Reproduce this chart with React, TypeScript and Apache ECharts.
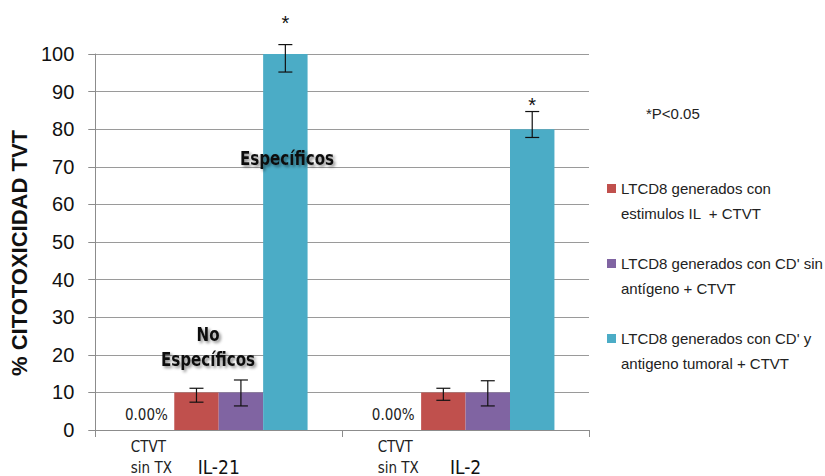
import React, { useEffect, useRef } from "react";
import * as echarts from "echarts";

const categories = ["IL-21", "IL-2"];
const ctvtSinTx = [0, 0];
const ilCtvt = [10, 10];
const cdSinAntigeno = [10, 10];
const cdAntigenoTumoral = [100, 80];
// error bar extents [low, high]
const ilCtvtErr = [[7.4, 11.1], [7.9, 11.1]];
const cdSinErr = [[6.4, 13.3], [6.4, 13.1]];
const cdTumErr = [[95.2, 102.5], [77.8, 84.7]];
const yTicks = { min: 0, max: 100, interval: 10 };

const legendNames = [
  "LTCD8 generados con\nestimulos IL  + CTVT",
  "LTCD8 generados con CD' sin\nantígeno + CTVT",
  "LTCD8 generados con CD' y\nantigeno tumoral + CTVT",
];

const SANS = "'Liberation Sans', Arial, sans-serif";
const NARROW = "'Liberation Sans Narrow', 'DejaVu Sans Condensed', sans-serif";
const CAT_GAP = 0.28;
const NBARS = 4;

export default function App() {
  const ref = useRef<HTMLDivElement>(null);
  useEffect(() => {
    if (!ref.current) return;
    const chart = echarts.init(ref.current, null, { renderer: "svg" });
    const errData: any[] = [];
    [ilCtvtErr, cdSinErr, cdTumErr].forEach((arr, s) => {
      arr.forEach((e, i) => errData.push([i, e[0], e[1], s + 1]));
    });
    const shadowText = {
      fontFamily: NARROW,
      fontWeight: "bold",
      fontSize: 20,
      fill: "#111",
      align: "center",
      verticalAlign: "middle",
      textShadowColor: "rgba(0,0,0,0.45)",
      textShadowBlur: 3,
      textShadowOffsetX: 2,
      textShadowOffsetY: 2,
    };
    const option: any = {
      animation: false,
      backgroundColor: "#ffffff",
      grid: { left: 89, right: 236, top: 54, bottom: 44, containLabel: false },
      legend: {
        data: legendNames,
        orient: "vertical",
        left: 602,
        top: 146,
        itemWidth: 9,
        itemHeight: 9,
        itemGap: 0,
        icon: "rect",
        selectedMode: false,
        formatter: (name: string) => "\u00a0\n" + name,
        textStyle: {
          fontFamily: SANS,
          fontSize: 15,
          color: "#222",
          lineHeight: 25,
        },
      },
      xAxis: {
        type: "category",
        data: categories,
        axisLine: { lineStyle: { color: "#8c8c8c", width: 1 } },
        axisTick: { show: true, length: 7, lineStyle: { color: "#8c8c8c" } },
        axisLabel: { fontFamily: NARROW, fontSize: 19, color: "#111", margin: 27 },
        splitLine: { show: false },
      },
      yAxis: {
        type: "value",
        min: yTicks.min,
        max: yTicks.max,
        interval: yTicks.interval,
        name: "% CITOTOXICIDAD TVT",
        nameLocation: "middle",
        nameGap: 50,
        nameTextStyle: {
          fontFamily: SANS,
          fontWeight: "bold",
          fontSize: 22,
          color: "#111",
          padding: [0, 0, 0, -22],
        },
        axisLine: { show: true, lineStyle: { color: "#8c8c8c" } },
        axisTick: { show: true, length: 7, lineStyle: { color: "#8c8c8c" } },
        axisLabel: { fontFamily: SANS, fontSize: 20, color: "#111", margin: 21 },
        splitLine: { lineStyle: { color: "#9a9a9a", width: 1 } },
      },
      series: [
        {
          name: "CTVT sin TX",
          type: "bar",
          stack: "ctvt",
          data: ctvtSinTx,
          barGap: "0%",
          barCategoryGap: CAT_GAP * 100 + "%",
          itemStyle: { color: "rgba(0,0,0,0)" },
          label: {
            show: true,
            position: [38, -15],
            align: "right",
            verticalAlign: "middle",
            formatter: (p: any) => Number(p.value).toFixed(2) + "%",
            fontFamily: NARROW,
            fontSize: 15,
            color: "#222",
          },
        },
        {
          name: "CTVT label",
          type: "bar",
          stack: "ctvt",
          data: ctvtSinTx,
          itemStyle: { color: "rgba(0,0,0,0)" },
          label: {
            show: true,
            position: [1, 6],
            align: "left",
            verticalAlign: "top",
            formatter: "CTVT\nsin TX",
            fontFamily: NARROW,
            fontSize: 15,
            lineHeight: 21,
            color: "#222",
          },
        },
        {
          name: legendNames[0],
          type: "bar",
          data: ilCtvt,
          itemStyle: { color: "#C0504D" },
        },
        {
          name: legendNames[1],
          type: "bar",
          data: cdSinAntigeno,
          itemStyle: { color: "#8064A2" },
        },
        {
          name: legendNames[2],
          type: "bar",
          data: cdAntigenoTumoral.map((v, i) => ({
            value: v,
            label: { distance: i === 0 ? 21 : 14 },
          })),
          itemStyle: { color: "#4BACC6" },
          label: {
            show: true,
            position: "top",
            formatter: "*",
            fontFamily: SANS,
            fontSize: 20,
            color: "#111",
          },
        },
        {
          type: "custom",
          z: 10,
          data: errData,
          renderItem: (params: any, api: any) => {
            const cat = api.value(0);
            const low = api.value(1);
            const high = api.value(2);
            const pos = api.value(3);
            const band = api.size([1, 0])[0];
            const groupW = band * (1 - CAT_GAP);
            const barW = groupW / NBARS;
            const cx = api.coord([cat, 0])[0] - groupW / 2 + barW * (pos + 0.5);
            const yTop = api.coord([cat, high])[1];
            const yBot = api.coord([cat, low])[1];
            const cap = 7;
            const st = { stroke: "#111", lineWidth: 1.2 };
            return {
              type: "group",
              children: [
                { type: "line", shape: { x1: cx, y1: yTop, x2: cx, y2: yBot }, style: st },
                { type: "line", shape: { x1: cx - cap, y1: yTop, x2: cx + cap, y2: yTop }, style: st },
                { type: "line", shape: { x1: cx - cap, y1: yBot, x2: cx + cap, y2: yBot }, style: st },
              ],
            };
          },
        },
      ],
      graphic: [
        {
          type: "text",
          z: 100,
          style: {
            text: "*P<0.05",
            x: 646,
            y: 113,
            verticalAlign: "middle",
            fontFamily: SANS,
            fontSize: 15,
            fill: "#222",
          },
        },
        {
          type: "text",
          z: 100,
          x: 287,
          y: 158,
          scaleX: 0.84,
          style: { ...shadowText, text: "Específicos", x: 0, y: 0 },
        },
        {
          type: "text",
          z: 100,
          x: 208,
          y: 346,
          scaleX: 0.84,
          style: { ...shadowText, text: "No\nEspecíficos", x: 0, y: 0, lineHeight: 25 },
        },
      ],
    };
    chart.setOption(option);
    return () => chart.dispose();
  }, []);
  return (
    <div
      ref={ref}
      style={{ position: "fixed", left: 0, top: 0, width: 825, height: 476, background: "#fff" }}
    />
  );
}
